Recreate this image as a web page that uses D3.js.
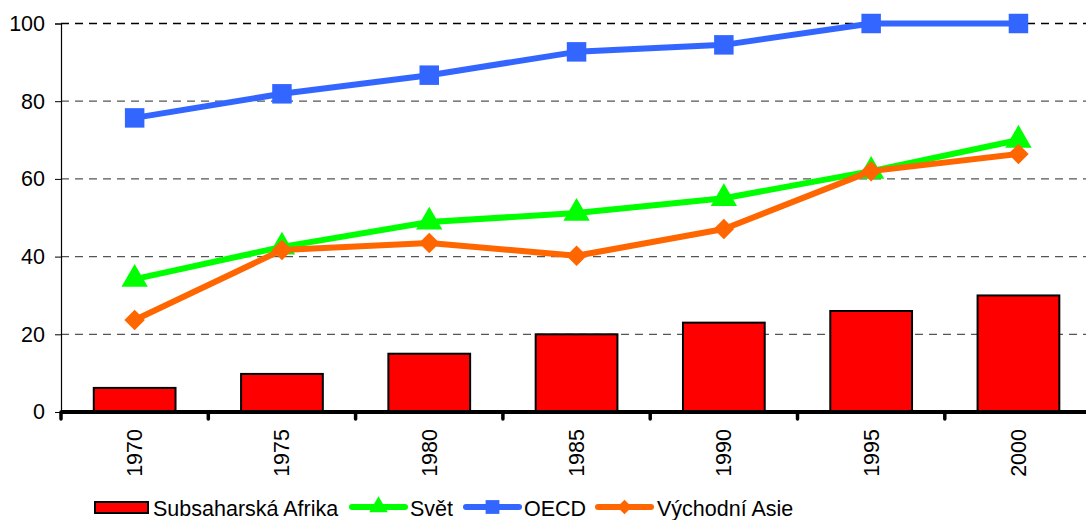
<!DOCTYPE html>
<html>
<head>
<meta charset="utf-8">
<script src="https://cdn.jsdelivr.net/npm/d3@7"></script>
<style>
  body { margin: 0; background: #fff; }
  svg { font-family: Arial, "Liberation Sans", sans-serif; }
</style>
</head>
<body>
<div id="chart"></div>
<script>
var years = ["1970", "1975", "1980", "1985", "1990", "1995", "2000"];
var afrika = [6.2, 9.8, 15, 20, 23, 26, 30];
var svet = [34.2, 42.5, 48.9, 51.2, 55, 62, 70];
var oecd = [75.7, 81.9, 86.7, 92.7, 94.5, 100, 100];
var asie = [23.7, 41.7, 43.5, 40.2, 47.1, 62, 66.4];
var yTicks = [0, 20, 40, 60, 80, 100];

var width = 1086, height = 520;
var plotLeft = 61, plotTop = 23.5, plotBottom = 412, bandW = 147.3;
var fontSize = 21.5;

var svg = d3.select("#chart").append("svg")
	.attr("width", width)
	.attr("height", height);

var x = d3.scaleBand()
	.domain(years)
	.range([plotLeft, plotLeft + bandW * years.length])
	.paddingInner(0).paddingOuter(0);

var y = d3.scaleLinear()
	.domain([0, 100])
	.range([plotBottom, plotTop]);

// dashed grid
svg.append("g").selectAll("line")
	.data(yTicks.filter(function(d){ return d > 0; }))
	.enter().append("line")
	.attr("x1", plotLeft).attr("x2", width)
	.attr("y1", function(d){ return y(d); })
	.attr("y2", function(d){ return y(d); })
	.attr("stroke", function(d){ return d == 100 ? "#000" : "#555"; })
	.attr("stroke-width", 1.3)
	.attr("stroke-dasharray", "8,6");

// y axis
var yAxis = d3.axisLeft(y).tickValues(yTicks).tickSize(6).tickPadding(10);
var yg = svg.append("g").attr("transform", "translate(" + plotLeft + ",0)").call(yAxis);
yg.select(".domain").attr("stroke", "#000").attr("stroke-width", 1.2);
yg.selectAll(".tick line").attr("stroke", "#000");
yg.selectAll("text").attr("font-size", fontSize).attr("fill", "#000")
	.attr("font-family", "Arial, 'Liberation Sans', sans-serif");

// bars
var barW = bandW * 0.555;
svg.append("g").selectAll("rect")
	.data(afrika)
	.enter().append("rect")
	.attr("x", function(d, i){ return x(years[i]) + (bandW - barW) / 2; })
	.attr("y", function(d){ return y(d); })
	.attr("width", barW)
	.attr("height", function(d){ return plotBottom - y(d); })
	.attr("fill", "#ff0000")
	.attr("stroke", "#000")
	.attr("stroke-width", 2);

// x axis
svg.append("line")
	.attr("x1", plotLeft).attr("x2", width)
	.attr("y1", plotBottom).attr("y2", plotBottom)
	.attr("stroke", "#000").attr("stroke-width", 4);
svg.append("g").selectAll("line")
	.data(d3.range(years.length + 1))
	.enter().append("line")
	.attr("x1", function(i){ return plotLeft + i * bandW; })
	.attr("x2", function(i){ return plotLeft + i * bandW; })
	.attr("y1", plotBottom).attr("y2", plotBottom + 7)
	.attr("stroke", "#000").attr("stroke-width", 3.5)
	.attr("stroke-linecap", "round");
svg.append("g").selectAll("text")
	.data(years)
	.enter().append("text")
	.attr("transform", function(d){ return "translate(" + (x(d) + bandW / 2) + ",429) rotate(-90)"; })
	.attr("text-anchor", "end")
	.attr("dy", "0.35em")
	.attr("font-size", fontSize)
	.text(function(d){ return d; });

// lines
var cx = function(i){ return x(years[i]) + bandW / 2; };
var series = [
	{ name: "Svět", values: svet, color: "#00ff00", symbol: d3.symbolTriangle, size: 300, rot: 0 },
	{ name: "Východní Asie", values: asie, color: "#ff6600", symbol: d3.symbolSquare, size: 210, rot: 45 },
	{ name: "OECD", values: oecd, color: "#3366ff", symbol: d3.symbolSquare, size: 380, rot: 0 }
];
var line = d3.line()
	.x(function(d, i){ return cx(i); })
	.y(function(d){ return y(d); });

series.forEach(function(s){
	svg.append("path")
		.datum(s.values)
		.attr("d", line)
		.attr("fill", "none")
		.attr("stroke", s.color)
		.attr("stroke-width", 6)
		.attr("stroke-linejoin", "round");
	svg.append("g").selectAll("path")
		.data(s.values)
		.enter().append("path")
		.attr("transform", function(d, i){ return "translate(" + cx(i) + "," + y(d) + ") rotate(" + s.rot + ")"; })
		.attr("d", d3.symbol().type(s.symbol).size(s.size))
		.attr("fill", s.color);
});

// legend
var lg = svg.append("g").attr("font-size", fontSize);
lg.append("rect").attr("x", 95).attr("y", 502).attr("width", 53).attr("height", 11)
	.attr("fill", "#ff0000").attr("stroke", "#000").attr("stroke-width", 2);
lg.append("text").attr("x", 153).attr("y", 516).text("Subsaharská Afrika");

var legendLines = [
	{ x: 349, tx: 410, s: series[0] },
	{ x: 463, tx: 524, s: series[2] },
	{ x: 595, tx: 657, s: series[1] }
];
legendLines.forEach(function(l){
	lg.append("line").attr("x1", l.x + 3).attr("x2", l.x + 56)
		.attr("y1", 507).attr("y2", 507)
		.attr("stroke", l.s.color).attr("stroke-width", 6).attr("stroke-linecap", "round");
	lg.append("path")
		.attr("transform", "translate(" + (l.x + 29.5) + ",507) rotate(" + l.s.rot + ")")
		.attr("d", d3.symbol().type(l.s.symbol).size(l.s.size * 0.5))
		.attr("fill", l.s.color);
	lg.append("text").attr("x", l.tx).attr("y", 516).text(l.s.name);
});
</script>
</body>
</html>
